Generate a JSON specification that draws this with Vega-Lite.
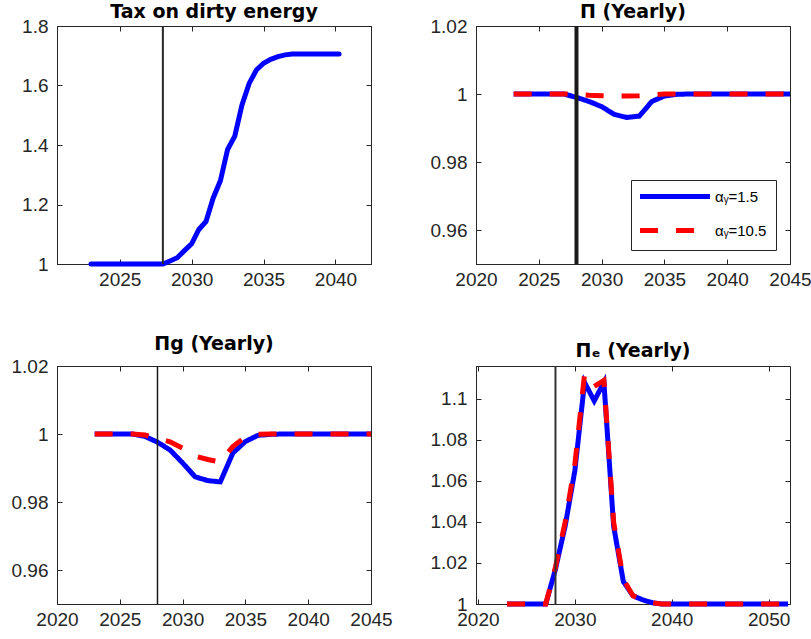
{
  "$schema": "https://vega.github.io/schema/vega-lite/v6.json",
  "background": "white",
  "padding": {"left": 10, "top": 2, "right": 0, "bottom": 0},
  "datasets": {
    "lines": [
      {"panel":"tax","s":"αᵧ=1.5","year":2023,"value":1},
      {"panel":"tax","s":"αᵧ=1.5","year":2024,"value":1},
      {"panel":"tax","s":"αᵧ=1.5","year":2025,"value":1},
      {"panel":"tax","s":"αᵧ=1.5","year":2026,"value":1},
      {"panel":"tax","s":"αᵧ=1.5","year":2027,"value":1},
      {"panel":"tax","s":"αᵧ=1.5","year":2028,"value":1},
      {"panel":"tax","s":"αᵧ=1.5","year":2028.5,"value":1.01},
      {"panel":"tax","s":"αᵧ=1.5","year":2029,"value":1.021},
      {"panel":"tax","s":"αᵧ=1.5","year":2029.5,"value":1.045},
      {"panel":"tax","s":"αᵧ=1.5","year":2030,"value":1.068},
      {"panel":"tax","s":"αᵧ=1.5","year":2030.5,"value":1.116},
      {"panel":"tax","s":"αᵧ=1.5","year":2031,"value":1.143},
      {"panel":"tax","s":"αᵧ=1.5","year":2031.5,"value":1.222},
      {"panel":"tax","s":"αᵧ=1.5","year":2032,"value":1.28},
      {"panel":"tax","s":"αᵧ=1.5","year":2032.5,"value":1.385},
      {"panel":"tax","s":"αᵧ=1.5","year":2033,"value":1.43},
      {"panel":"tax","s":"αᵧ=1.5","year":2033.5,"value":1.535},
      {"panel":"tax","s":"αᵧ=1.5","year":2034,"value":1.607},
      {"panel":"tax","s":"αᵧ=1.5","year":2034.5,"value":1.652},
      {"panel":"tax","s":"αᵧ=1.5","year":2035,"value":1.675},
      {"panel":"tax","s":"αᵧ=1.5","year":2035.5,"value":1.688},
      {"panel":"tax","s":"αᵧ=1.5","year":2036,"value":1.697},
      {"panel":"tax","s":"αᵧ=1.5","year":2036.5,"value":1.703},
      {"panel":"tax","s":"αᵧ=1.5","year":2037,"value":1.706},
      {"panel":"tax","s":"αᵧ=1.5","year":2038,"value":1.706},
      {"panel":"tax","s":"αᵧ=1.5","year":2039,"value":1.706},
      {"panel":"tax","s":"αᵧ=1.5","year":2040,"value":1.706},
      {"panel":"tax","s":"αᵧ=1.5","year":2040.25,"value":1.706},

      {"panel":"pi","s":"αᵧ=1.5","year":2023,"value":1},
      {"panel":"pi","s":"αᵧ=1.5","year":2024,"value":1},
      {"panel":"pi","s":"αᵧ=1.5","year":2025,"value":1},
      {"panel":"pi","s":"αᵧ=1.5","year":2026,"value":1},
      {"panel":"pi","s":"αᵧ=1.5","year":2027,"value":1},
      {"panel":"pi","s":"αᵧ=1.5","year":2028,"value":0.999},
      {"panel":"pi","s":"αᵧ=1.5","year":2029,"value":0.9978},
      {"panel":"pi","s":"αᵧ=1.5","year":2030,"value":0.9963},
      {"panel":"pi","s":"αᵧ=1.5","year":2031,"value":0.994},
      {"panel":"pi","s":"αᵧ=1.5","year":2032,"value":0.9931},
      {"panel":"pi","s":"αᵧ=1.5","year":2033,"value":0.9935},
      {"panel":"pi","s":"αᵧ=1.5","year":2034,"value":0.9978},
      {"panel":"pi","s":"αᵧ=1.5","year":2035,"value":0.9994},
      {"panel":"pi","s":"αᵧ=1.5","year":2036,"value":0.9999},
      {"panel":"pi","s":"αᵧ=1.5","year":2037,"value":1},
      {"panel":"pi","s":"αᵧ=1.5","year":2038,"value":1},
      {"panel":"pi","s":"αᵧ=1.5","year":2039,"value":1},
      {"panel":"pi","s":"αᵧ=1.5","year":2040,"value":1},
      {"panel":"pi","s":"αᵧ=1.5","year":2041,"value":1},
      {"panel":"pi","s":"αᵧ=1.5","year":2042,"value":1},
      {"panel":"pi","s":"αᵧ=1.5","year":2043,"value":1},
      {"panel":"pi","s":"αᵧ=1.5","year":2044,"value":1},
      {"panel":"pi","s":"αᵧ=1.5","year":2045,"value":1},
      {"panel":"pi","s":"αᵧ=10.5","year":2023,"value":1},
      {"panel":"pi","s":"αᵧ=10.5","year":2024,"value":1},
      {"panel":"pi","s":"αᵧ=10.5","year":2025,"value":1},
      {"panel":"pi","s":"αᵧ=10.5","year":2026,"value":1},
      {"panel":"pi","s":"αᵧ=10.5","year":2027,"value":1},
      {"panel":"pi","s":"αᵧ=10.5","year":2028,"value":0.9999},
      {"panel":"pi","s":"αᵧ=10.5","year":2029,"value":0.9996},
      {"panel":"pi","s":"αᵧ=10.5","year":2030,"value":0.9995},
      {"panel":"pi","s":"αᵧ=10.5","year":2031,"value":0.9994},
      {"panel":"pi","s":"αᵧ=10.5","year":2032,"value":0.9994},
      {"panel":"pi","s":"αᵧ=10.5","year":2033,"value":0.9995},
      {"panel":"pi","s":"αᵧ=10.5","year":2034,"value":0.9997},
      {"panel":"pi","s":"αᵧ=10.5","year":2035,"value":1},
      {"panel":"pi","s":"αᵧ=10.5","year":2036,"value":1},
      {"panel":"pi","s":"αᵧ=10.5","year":2037,"value":1},
      {"panel":"pi","s":"αᵧ=10.5","year":2038,"value":1},
      {"panel":"pi","s":"αᵧ=10.5","year":2039,"value":1},
      {"panel":"pi","s":"αᵧ=10.5","year":2040,"value":1},
      {"panel":"pi","s":"αᵧ=10.5","year":2041,"value":1},
      {"panel":"pi","s":"αᵧ=10.5","year":2042,"value":1},
      {"panel":"pi","s":"αᵧ=10.5","year":2043,"value":1},
      {"panel":"pi","s":"αᵧ=10.5","year":2044,"value":1},
      {"panel":"pi","s":"αᵧ=10.5","year":2045,"value":1},

      {"panel":"pig","s":"αᵧ=1.5","year":2023,"value":1},
      {"panel":"pig","s":"αᵧ=1.5","year":2024,"value":1},
      {"panel":"pig","s":"αᵧ=1.5","year":2025,"value":1},
      {"panel":"pig","s":"αᵧ=1.5","year":2026,"value":1},
      {"panel":"pig","s":"αᵧ=1.5","year":2027,"value":0.9993},
      {"panel":"pig","s":"αᵧ=1.5","year":2028,"value":0.9976},
      {"panel":"pig","s":"αᵧ=1.5","year":2029,"value":0.9953},
      {"panel":"pig","s":"αᵧ=1.5","year":2030,"value":0.9915},
      {"panel":"pig","s":"αᵧ=1.5","year":2031,"value":0.9874},
      {"panel":"pig","s":"αᵧ=1.5","year":2032,"value":0.9863},
      {"panel":"pig","s":"αᵧ=1.5","year":2033,"value":0.9859},
      {"panel":"pig","s":"αᵧ=1.5","year":2034,"value":0.9944},
      {"panel":"pig","s":"αᵧ=1.5","year":2035,"value":0.9978},
      {"panel":"pig","s":"αᵧ=1.5","year":2036,"value":0.9996},
      {"panel":"pig","s":"αᵧ=1.5","year":2037,"value":0.9999},
      {"panel":"pig","s":"αᵧ=1.5","year":2038,"value":1},
      {"panel":"pig","s":"αᵧ=1.5","year":2039,"value":1},
      {"panel":"pig","s":"αᵧ=1.5","year":2040,"value":1},
      {"panel":"pig","s":"αᵧ=1.5","year":2041,"value":1},
      {"panel":"pig","s":"αᵧ=1.5","year":2042,"value":1},
      {"panel":"pig","s":"αᵧ=1.5","year":2043,"value":1},
      {"panel":"pig","s":"αᵧ=1.5","year":2044,"value":1},
      {"panel":"pig","s":"αᵧ=1.5","year":2045,"value":1},
      {"panel":"pig","s":"αᵧ=10.5","year":2023,"value":1},
      {"panel":"pig","s":"αᵧ=10.5","year":2024,"value":1},
      {"panel":"pig","s":"αᵧ=10.5","year":2025,"value":1},
      {"panel":"pig","s":"αᵧ=10.5","year":2026,"value":1},
      {"panel":"pig","s":"αᵧ=10.5","year":2027,"value":0.9997},
      {"panel":"pig","s":"αᵧ=10.5","year":2028,"value":0.9987},
      {"panel":"pig","s":"αᵧ=10.5","year":2029,"value":0.9977},
      {"panel":"pig","s":"αᵧ=10.5","year":2030,"value":0.9958},
      {"panel":"pig","s":"αᵧ=10.5","year":2031,"value":0.9935},
      {"panel":"pig","s":"αᵧ=10.5","year":2032,"value":0.9925},
      {"panel":"pig","s":"αᵧ=10.5","year":2033,"value":0.9918},
      {"panel":"pig","s":"αᵧ=10.5","year":2034,"value":0.9963},
      {"panel":"pig","s":"αᵧ=10.5","year":2035,"value":0.9991},
      {"panel":"pig","s":"αᵧ=10.5","year":2036,"value":0.9999},
      {"panel":"pig","s":"αᵧ=10.5","year":2037,"value":1},
      {"panel":"pig","s":"αᵧ=10.5","year":2038,"value":1},
      {"panel":"pig","s":"αᵧ=10.5","year":2039,"value":1},
      {"panel":"pig","s":"αᵧ=10.5","year":2040,"value":1},
      {"panel":"pig","s":"αᵧ=10.5","year":2041,"value":1},
      {"panel":"pig","s":"αᵧ=10.5","year":2042,"value":1},
      {"panel":"pig","s":"αᵧ=10.5","year":2043,"value":1},
      {"panel":"pig","s":"αᵧ=10.5","year":2044,"value":1},
      {"panel":"pig","s":"αᵧ=10.5","year":2045,"value":1},

      {"panel":"pie","s":"αᵧ=1.5","year":2023,"value":1},
      {"panel":"pie","s":"αᵧ=1.5","year":2024,"value":1},
      {"panel":"pie","s":"αᵧ=1.5","year":2025,"value":1},
      {"panel":"pie","s":"αᵧ=1.5","year":2026,"value":1},
      {"panel":"pie","s":"αᵧ=1.5","year":2027,"value":1},
      {"panel":"pie","s":"αᵧ=1.5","year":2028,"value":1.017},
      {"panel":"pie","s":"αᵧ=1.5","year":2029,"value":1.038},
      {"panel":"pie","s":"αᵧ=1.5","year":2030,"value":1.065},
      {"panel":"pie","s":"αᵧ=1.5","year":2031,"value":1.108},
      {"panel":"pie","s":"αᵧ=1.5","year":2032,"value":1.099},
      {"panel":"pie","s":"αᵧ=1.5","year":2033,"value":1.108},
      {"panel":"pie","s":"αᵧ=1.5","year":2034,"value":1.038},
      {"panel":"pie","s":"αᵧ=1.5","year":2035,"value":1.011},
      {"panel":"pie","s":"αᵧ=1.5","year":2036,"value":1.004},
      {"panel":"pie","s":"αᵧ=1.5","year":2037,"value":1.002},
      {"panel":"pie","s":"αᵧ=1.5","year":2038,"value":1.0006},
      {"panel":"pie","s":"αᵧ=1.5","year":2039,"value":1},
      {"panel":"pie","s":"αᵧ=1.5","year":2040,"value":1},
      {"panel":"pie","s":"αᵧ=1.5","year":2041,"value":1},
      {"panel":"pie","s":"αᵧ=1.5","year":2042,"value":1},
      {"panel":"pie","s":"αᵧ=1.5","year":2043,"value":1},
      {"panel":"pie","s":"αᵧ=1.5","year":2044,"value":1},
      {"panel":"pie","s":"αᵧ=1.5","year":2045,"value":1},
      {"panel":"pie","s":"αᵧ=1.5","year":2046,"value":1},
      {"panel":"pie","s":"αᵧ=1.5","year":2047,"value":1},
      {"panel":"pie","s":"αᵧ=1.5","year":2048,"value":1},
      {"panel":"pie","s":"αᵧ=1.5","year":2049,"value":1},
      {"panel":"pie","s":"αᵧ=1.5","year":2050,"value":1},
      {"panel":"pie","s":"αᵧ=1.5","year":2051,"value":1},
      {"panel":"pie","s":"αᵧ=1.5","year":2052,"value":1},
      {"panel":"pie","s":"αᵧ=10.5","year":2023,"value":1},
      {"panel":"pie","s":"αᵧ=10.5","year":2024,"value":1},
      {"panel":"pie","s":"αᵧ=10.5","year":2025,"value":1},
      {"panel":"pie","s":"αᵧ=10.5","year":2026,"value":1},
      {"panel":"pie","s":"αᵧ=10.5","year":2027,"value":1},
      {"panel":"pie","s":"αᵧ=10.5","year":2028,"value":1.018},
      {"panel":"pie","s":"αᵧ=10.5","year":2029,"value":1.04},
      {"panel":"pie","s":"αᵧ=10.5","year":2030,"value":1.068},
      {"panel":"pie","s":"αᵧ=10.5","year":2031,"value":1.112},
      {"panel":"pie","s":"αᵧ=10.5","year":2032,"value":1.106},
      {"panel":"pie","s":"αᵧ=10.5","year":2033,"value":1.109},
      {"panel":"pie","s":"αᵧ=10.5","year":2034,"value":1.04},
      {"panel":"pie","s":"αᵧ=10.5","year":2035,"value":1.012},
      {"panel":"pie","s":"αᵧ=10.5","year":2036,"value":1.004},
      {"panel":"pie","s":"αᵧ=10.5","year":2037,"value":1.002},
      {"panel":"pie","s":"αᵧ=10.5","year":2038,"value":1.0006},
      {"panel":"pie","s":"αᵧ=10.5","year":2039,"value":1},
      {"panel":"pie","s":"αᵧ=10.5","year":2040,"value":1},
      {"panel":"pie","s":"αᵧ=10.5","year":2041,"value":1},
      {"panel":"pie","s":"αᵧ=10.5","year":2042,"value":1},
      {"panel":"pie","s":"αᵧ=10.5","year":2043,"value":1},
      {"panel":"pie","s":"αᵧ=10.5","year":2044,"value":1},
      {"panel":"pie","s":"αᵧ=10.5","year":2045,"value":1},
      {"panel":"pie","s":"αᵧ=10.5","year":2046,"value":1},
      {"panel":"pie","s":"αᵧ=10.5","year":2047,"value":1},
      {"panel":"pie","s":"αᵧ=10.5","year":2048,"value":1},
      {"panel":"pie","s":"αᵧ=10.5","year":2049,"value":1},
      {"panel":"pie","s":"αᵧ=10.5","year":2050,"value":1},
      {"panel":"pie","s":"αᵧ=10.5","year":2051,"value":1},
      {"panel":"pie","s":"αᵧ=10.5","year":2052,"value":1}
    ],
    "vlines": [
      {"panel":"tax","year":2028},
      {"panel":"pi","year":2028},
      {"panel":"pig","year":2028},
      {"panel":"pie","year":2028}
    ]
  },
  "columns": 2,
  "spacing": {"row": 102, "column": 105},
  "bounds": "flush",
  "concat": [
    {
      "width": 314, "height": 238,
      "title": {"text": "Tax on dirty energy", "offset": -5},
      "layer": [
        {
          "data": {"name": "lines"},
          "transform": [{"filter": "datum.panel === 'tax'"}],
          "mark": {"type": "line", "strokeWidth": 5, "strokeCap": "round"},
          "encoding": {
            "x": {"field": "year", "type": "quantitative", "scale": {"domain": [2020.64, 2042.47], "nice": false, "zero": false}, "axis": {"orient": "bottom", "values": [2025, 2030, 2035, 2040], "format": "d", "title": null}},
            "y": {"field": "value", "type": "quantitative", "scale": {"domain": [1, 1.8], "nice": false, "zero": false}, "axis": {"orient": "left", "values": [1, 1.2, 1.4, 1.6, 1.8], "format": "~g", "title": null}},
            "color": {"field": "s", "type": "nominal", "scale": {"domain": ["αᵧ=1.5", "αᵧ=10.5"], "range": ["#0000ff", "#ff0000"]}, "legend": null}
          }
        },
        {
          "data": {"name": "vlines"},
          "transform": [{"filter": "datum.panel === 'tax'"}],
          "mark": {"type": "rule", "color": "#262626", "strokeWidth": 2},
          "encoding": {
            "x": {"field": "year", "type": "quantitative", "scale": {"domain": [2020.64, 2042.47], "nice": false, "zero": false}, "axis": {"orient": "top", "values": [2025, 2030, 2035, 2040], "labels": false, "domain": false, "title": null}}
          }
        },
        {
          "data": {"name": "lines"},
          "transform": [{"filter": "datum.panel === 'tax'"}],
          "mark": {"type": "line", "strokeOpacity": 0},
          "encoding": {
            "x": {"field": "year", "type": "quantitative", "scale": {"domain": [2020.64, 2042.47], "nice": false, "zero": false}, "axis": null},
            "y": {"field": "value", "type": "quantitative", "scale": {"domain": [1, 1.8], "nice": false, "zero": false}, "axis": {"orient": "right", "values": [1, 1.2, 1.4, 1.6, 1.8], "labels": false, "domain": false, "title": null}},
            "detail": {"field": "s"}
          }
        }
      ],
      "resolve": {"axis": {"x": "independent", "y": "independent"}}
    },
    {
      "width": 314, "height": 238,
      "title": {"text": "Π (Yearly)", "offset": -5},
      "layer": [
        {
          "data": {"name": "lines"},
          "transform": [{"filter": "datum.panel === 'pi'"}],
          "mark": {"type": "line", "strokeWidth": 5},
          "encoding": {
            "x": {"field": "year", "type": "quantitative", "scale": {"domain": [2020, 2045], "nice": false, "zero": false}, "axis": {"orient": "bottom", "values": [2020, 2025, 2030, 2035, 2040, 2045], "format": "d", "title": null}},
            "y": {"field": "value", "type": "quantitative", "scale": {"domain": [0.95, 1.02], "nice": false, "zero": false}, "axis": {"orient": "left", "values": [0.96, 0.98, 1, 1.02], "format": "~g", "title": null}},
            "color": {"field": "s", "type": "nominal", "scale": {"domain": ["αᵧ=1.5", "αᵧ=10.5"], "range": ["#0000ff", "#ff0000"]},
              "legend": {"title": null, "orient": "bottom-right", "offset": 14, "fillColor": "white", "strokeColor": "#262626", "padding": 9, "symbolType": "M-1.5,0H12.5", "symbolSize": 100, "symbolStrokeWidth": 5, "labelFontSize": 15, "labelColor": "#000000", "rowPadding": 13, "labelOffset": 60}},
            "strokeDash": {"field": "s", "type": "nominal", "scale": {"domain": ["αᵧ=1.5", "αᵧ=10.5"], "range": [[1, 0], [18, 18]]},
              "legend": {"title": null, "orient": "bottom-right", "offset": 14, "fillColor": "white", "strokeColor": "#262626", "padding": 9, "symbolType": "M-1.5,0H12.5", "symbolSize": 100, "symbolStrokeWidth": 5, "labelFontSize": 15, "labelColor": "#000000", "rowPadding": 13, "labelOffset": 60}}
          }
        },
        {
          "data": {"name": "vlines"},
          "transform": [{"filter": "datum.panel === 'pi'"}],
          "mark": {"type": "rule", "color": "#1a1a1a", "strokeWidth": 4},
          "encoding": {
            "x": {"field": "year", "type": "quantitative", "scale": {"domain": [2020, 2045], "nice": false, "zero": false}, "axis": {"orient": "top", "values": [2020, 2025, 2030, 2035, 2040, 2045], "labels": false, "domain": false, "title": null}}
          }
        },
        {
          "data": {"name": "lines"},
          "transform": [{"filter": "datum.panel === 'pi'"}],
          "mark": {"type": "line", "strokeOpacity": 0},
          "encoding": {
            "x": {"field": "year", "type": "quantitative", "scale": {"domain": [2020, 2045], "nice": false, "zero": false}, "axis": null},
            "y": {"field": "value", "type": "quantitative", "scale": {"domain": [0.95, 1.02], "nice": false, "zero": false}, "axis": {"orient": "right", "values": [0.96, 0.98, 1, 1.02], "labels": false, "domain": false, "title": null}},
            "detail": {"field": "s"}
          }
        }
      ],
      "resolve": {"axis": {"x": "independent", "y": "independent"}}
    },
    {
      "width": 314, "height": 238,
      "title": {"text": "Πg (Yearly)", "offset": 3},
      "layer": [
        {
          "data": {"name": "lines"},
          "transform": [{"filter": "datum.panel === 'pig'"}],
          "mark": {"type": "line", "strokeWidth": 5},
          "encoding": {
            "x": {"field": "year", "type": "quantitative", "scale": {"domain": [2020, 2045], "nice": false, "zero": false}, "axis": {"orient": "bottom", "values": [2020, 2025, 2030, 2035, 2040, 2045], "format": "d", "title": null}},
            "y": {"field": "value", "type": "quantitative", "scale": {"domain": [0.95, 1.02], "nice": false, "zero": false}, "axis": {"orient": "left", "values": [0.96, 0.98, 1, 1.02], "format": "~g", "title": null}},
            "color": {"field": "s", "type": "nominal", "scale": {"domain": ["αᵧ=1.5", "αᵧ=10.5"], "range": ["#0000ff", "#ff0000"]}, "legend": null},
            "strokeDash": {"field": "s", "type": "nominal", "scale": {"domain": ["αᵧ=1.5", "αᵧ=10.5"], "range": [[1, 0], [18, 18]]}, "legend": null}
          }
        },
        {
          "data": {"name": "vlines"},
          "transform": [{"filter": "datum.panel === 'pig'"}],
          "mark": {"type": "rule", "color": "#1a1a1a", "strokeWidth": 1.5},
          "encoding": {
            "x": {"field": "year", "type": "quantitative", "scale": {"domain": [2020, 2045], "nice": false, "zero": false}, "axis": {"orient": "top", "values": [2020, 2025, 2030, 2035, 2040, 2045], "labels": false, "domain": false, "title": null}}
          }
        },
        {
          "data": {"name": "lines"},
          "transform": [{"filter": "datum.panel === 'pig'"}],
          "mark": {"type": "line", "strokeOpacity": 0},
          "encoding": {
            "x": {"field": "year", "type": "quantitative", "scale": {"domain": [2020, 2045], "nice": false, "zero": false}, "axis": null},
            "y": {"field": "value", "type": "quantitative", "scale": {"domain": [0.95, 1.02], "nice": false, "zero": false}, "axis": {"orient": "right", "values": [0.96, 0.98, 1, 1.02], "labels": false, "domain": false, "title": null}},
            "detail": {"field": "s"}
          }
        }
      ],
      "resolve": {"axis": {"x": "independent", "y": "independent"}}
    },
    {
      "width": 314, "height": 238,
      "title": {"text": "Πₑ (Yearly)", "offset": 3},
      "layer": [
        {
          "data": {"name": "lines"},
          "transform": [{"filter": "datum.panel === 'pie'"}],
          "mark": {"type": "line", "strokeWidth": 5},
          "encoding": {
            "x": {"field": "year", "type": "quantitative", "scale": {"domain": [2019.8, 2052.2], "nice": false, "zero": false}, "axis": {"orient": "bottom", "values": [2020, 2030, 2040, 2050], "format": "d", "title": null}},
            "y": {"field": "value", "type": "quantitative", "scale": {"domain": [1, 1.116], "nice": false, "zero": false}, "axis": {"orient": "left", "values": [1, 1.02, 1.04, 1.06, 1.08, 1.1], "format": "~g", "title": null}},
            "color": {"field": "s", "type": "nominal", "scale": {"domain": ["αᵧ=1.5", "αᵧ=10.5"], "range": ["#0000ff", "#ff0000"]}, "legend": null},
            "strokeDash": {"field": "s", "type": "nominal", "scale": {"domain": ["αᵧ=1.5", "αᵧ=10.5"], "range": [[1, 0], [18, 18]]}, "legend": null}
          }
        },
        {
          "data": {"name": "vlines"},
          "transform": [{"filter": "datum.panel === 'pie'"}],
          "mark": {"type": "rule", "color": "#333333", "strokeWidth": 2},
          "encoding": {
            "x": {"field": "year", "type": "quantitative", "scale": {"domain": [2019.8, 2052.2], "nice": false, "zero": false}, "axis": {"orient": "top", "values": [2020, 2030, 2040, 2050], "labels": false, "domain": false, "title": null}}
          }
        },
        {
          "data": {"name": "lines"},
          "transform": [{"filter": "datum.panel === 'pie'"}],
          "mark": {"type": "line", "strokeOpacity": 0},
          "encoding": {
            "x": {"field": "year", "type": "quantitative", "scale": {"domain": [2019.8, 2052.2], "nice": false, "zero": false}, "axis": null},
            "y": {"field": "value", "type": "quantitative", "scale": {"domain": [1, 1.116], "nice": false, "zero": false}, "axis": {"orient": "right", "values": [1, 1.02, 1.04, 1.06, 1.08, 1.1], "labels": false, "domain": false, "title": null}},
            "detail": {"field": "s"}
          }
        }
      ],
      "resolve": {"axis": {"x": "independent", "y": "independent"}}
    }
  ],
  "resolve": {"scale": {"color": "independent", "strokeDash": "independent"}},
  "config": {
    "font": "Liberation Sans",
    "view": {"stroke": "#262626", "strokeWidth": 1},
    "axis": {
      "labelFont": "Liberation Sans", "labelFontSize": 19, "labelColor": "#262626",
      "domainColor": "#262626", "tickColor": "#262626", "tickSize": -5, "tickWidth": 1,
      "labelPadding": 14, "grid": false, "labelFlush": false, "labelOverlap": false, "labelBound": false
    },
    "axisX": {"labelPadding": 11},
    "title": {"font": "DejaVu Sans", "fontSize": 19, "fontWeight": "bold", "color": "#000000", "anchor": "middle", "baseline": "alphabetic"},
    "legend": {"labelFont": "Liberation Sans"}
  }
}
